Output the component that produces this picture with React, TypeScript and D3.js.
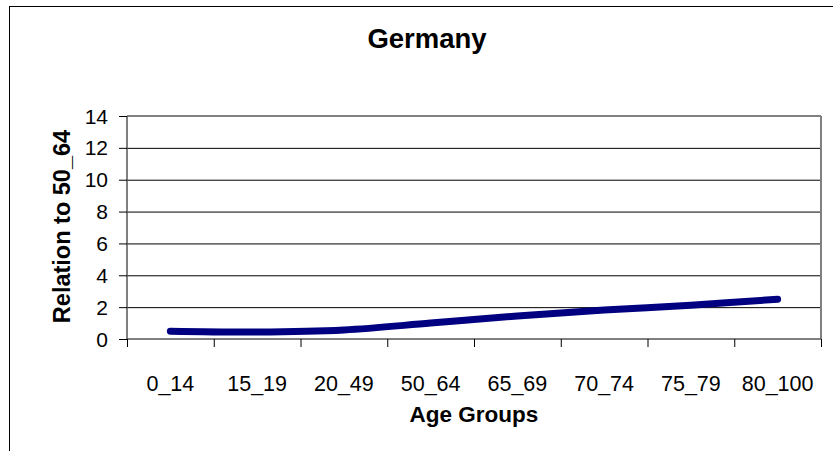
import React from "react";
import * as d3 from "d3";

const categories = ["0_14", "15_19", "20_49", "50_64", "65_69", "70_74", "75_79", "80_100"];
const values = [0.49, 0.44, 0.57, 1.0, 1.45, 1.82, 2.12, 2.5];
const yTicks = [0, 2, 4, 6, 8, 10, 12, 14];
const title = "Germany";
const xTitle = "Age Groups";
const yTitle = "Relation to 50_64";

const W = 833;
const H = 451;
const plot = { left: 127, right: 821, top: 116, bottom: 339 };
const FONT = "'Liberation Sans', Arial, sans-serif";

export default function App() {
  const x = d3.scaleBand<string>().domain(categories).range([plot.left, plot.right]);
  const y = d3.scaleLinear().domain([0, 14]).range([plot.bottom, plot.top]);
  const line = d3
    .line<number>()
    .x((_, i) => (x(categories[i]) as number) + x.bandwidth() / 2)
    .y((d) => y(d))
    .curve(d3.curveCatmullRom.alpha(0.5));
  const boundaries = categories.map((c) => x(c) as number).concat([plot.right]);

  return (
    <svg
      width={W}
      height={H}
      style={{ position: "absolute", left: 0, top: 0, background: "#fff" }}
      fontFamily={FONT}
    >
      <rect x={0} y={0} width={W} height={H} fill="#fff" />
      <rect x={9.5} y={6.5} width={850} height={470} fill="none" stroke="#000" strokeWidth={1} />
      {/* gridlines */}
      {yTicks.slice(1, -1).map((t) => (
        <line key={t} x1={plot.left} x2={plot.right} y1={y(t) + 0.5} y2={y(t) + 0.5} stroke="#000" strokeWidth={1} />
      ))}
      {/* plot border top & right */}
      <line x1={plot.left} x2={plot.right} y1={plot.top} y2={plot.top} stroke="#808080" strokeWidth={2} />
      <line x1={plot.right} x2={plot.right} y1={plot.top} y2={plot.bottom} stroke="#808080" strokeWidth={2} />
      {/* axes */}
      <line x1={plot.left} x2={plot.left} y1={plot.top} y2={plot.bottom} stroke="#555" strokeWidth={1.5} />
      <line x1={plot.left} x2={plot.right} y1={plot.bottom} y2={plot.bottom} stroke="#555" strokeWidth={1.5} />
      {yTicks.map((t) => (
        <g key={t}>
          <line x1={plot.left - 8} x2={plot.left} y1={y(t) + 0.5} y2={y(t) + 0.5} stroke="#000" strokeWidth={1} />
          <text x={108} y={y(t) + 7.5} textAnchor="end" fontSize={21} fill="#000">
            {t}
          </text>
        </g>
      ))}
      {boundaries.map((b, i) => (
        <line key={i} x1={b + 0.5} x2={b + 0.5} y1={plot.bottom} y2={plot.bottom + 8} stroke="#000" strokeWidth={1} />
      ))}
      {categories.map((c) => (
        <text key={c} x={(x(c) as number) + x.bandwidth() / 2} y={391} textAnchor="middle" fontSize={21.5} fill="#000">
          {c}
        </text>
      ))}
      <path d={line(values) || ""} fill="none" stroke="#000080" strokeWidth={7} strokeLinecap="round" strokeLinejoin="round" />
      <text x={427} y={48} textAnchor="middle" fontSize={27.5} fontWeight="bold" fill="#000">
        {title}
      </text>
      <text x={474} y={422} textAnchor="middle" fontSize={22.5} fontWeight="bold" fill="#000">
        {xTitle}
      </text>
      <text
        transform={`translate(70,${(plot.top + plot.bottom) / 2 - 1}) rotate(-90)`}
        textAnchor="middle"
        fontSize={23.5}
        fontWeight="bold"
        fill="#000"
      >
        {yTitle}
      </text>
    </svg>
  );
}
